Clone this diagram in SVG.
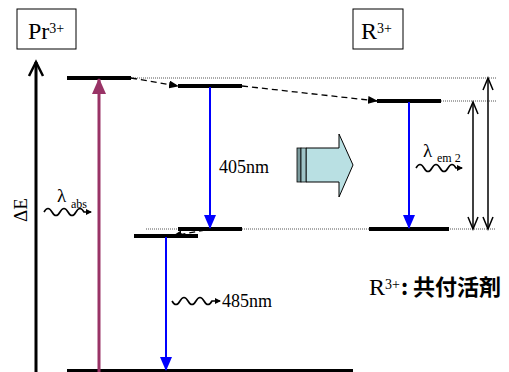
<svg xmlns="http://www.w3.org/2000/svg" width="509" height="372" viewBox="0 0 509 372">
<style>
text{font-family:"Liberation Serif","Times New Roman",serif;fill:#000}
.jp{font-family:"Noto Sans CJK JP","Noto Sans CJK SC",sans-serif;font-weight:bold}
.lvl{stroke:#000;stroke-width:4}
.dot{stroke:#555;stroke-width:1;stroke-dasharray:1 1;fill:none}
.dash{stroke:#000;stroke-width:1.3;stroke-dasharray:6 4;fill:none}
.blue{stroke:#0000ff;stroke-width:2;fill:none}
.wave{stroke:#000;stroke-width:1.6;fill:none}
.open{stroke:#000;stroke-width:1.5;fill:none}
</style>
<defs>
<marker id="ah" markerWidth="10" markerHeight="8" refX="9" refY="4" orient="auto" markerUnits="userSpaceOnUse"><path d="M0,0 L10,4 L0,8 Z" fill="#000"/></marker>
<marker id="ab" markerWidth="14" markerHeight="12" refX="13" refY="6" orient="auto" markerUnits="userSpaceOnUse"><path d="M0,0 L14,6 L0,12 Z" fill="#0000ff"/></marker>
<marker id="ap" markerWidth="16" markerHeight="14" refX="15" refY="7" orient="auto" markerUnits="userSpaceOnUse"><path d="M0,0 L16,7 L0,14 Z" fill="#993366"/></marker>
<marker id="aw" markerWidth="6" markerHeight="6" refX="5" refY="3" orient="auto" markerUnits="userSpaceOnUse"><path d="M0,0 L6,3 L0,6 Z" fill="#000"/></marker>
</defs>
<rect width="509" height="372" fill="#fff"/>

<g id="pr-label">
<rect x="17" y="9" width="59" height="40" fill="#fff" stroke="#000" stroke-width="1"/>
<text x="28" y="39" font-size="24">Pr<tspan font-size="14" dy="-6">3+</tspan></text>
</g>
<g id="r-label">
<rect x="353" y="9" width="50" height="40" fill="#fff" stroke="#000" stroke-width="1"/>
<text x="361" y="39" font-size="24">R<tspan font-size="14" dy="-6">3+</tspan></text>
</g>

<g id="axis">
<line x1="36" y1="62" x2="36" y2="372" stroke="#000" stroke-width="3"/>
<path d="M29,76 L36,62 L43,76" stroke="#000" stroke-width="2.5" fill="none"/>
<text font-size="19" transform="translate(27,210) rotate(-90)" text-anchor="middle">ΔE</text>
</g>

<g id="guides">
<line class="dot" x1="131" y1="78" x2="496" y2="78"/>
<line class="dot" x1="441" y1="101" x2="496" y2="101"/>
<line class="dot" x1="146" y1="229" x2="496" y2="229"/>
</g>

<g id="levels">
<line class="lvl" x1="67" y1="78" x2="131" y2="78" stroke-width="3"/>
<line class="lvl" x1="178" y1="86" x2="242" y2="86"/>
<line class="lvl" x1="377" y1="101" x2="441" y2="101"/>
<line class="lvl" x1="178" y1="229" x2="242" y2="229"/>
<line class="lvl" x1="369" y1="229" x2="449" y2="229" stroke-width="3"/>
<line class="lvl" x1="134" y1="236" x2="198" y2="236" stroke-width="3"/>
<line class="lvl" x1="67" y1="371" x2="353" y2="371" stroke-width="3"/>
</g>

<g id="connectors">
<line class="dash" x1="131" y1="78" x2="178" y2="86" marker-end="url(#ah)"/>
<line class="dash" x1="242" y1="86" x2="377" y2="101" marker-end="url(#ah)"/>
<line class="dash" x1="205" y1="230" x2="173" y2="236" marker-end="url(#ah)"/>
<line x1="99" y1="372" x2="99" y2="79" stroke="#993366" stroke-width="3" marker-end="url(#ap)"/>
<line class="blue" x1="210" y1="87" x2="210" y2="228" marker-end="url(#ab)"/>
<line class="blue" x1="166" y1="237" x2="166" y2="370" marker-end="url(#ab)"/>
<line class="blue" x1="409" y1="102" x2="409" y2="228" marker-end="url(#ab)"/>
<line class="open" x1="473" y1="103" x2="473" y2="228"/>
<path class="open" d="M468,114 L473,102 L478,114 M468,217 L473,229 L478,217"/>
<line class="open" x1="488" y1="79" x2="488" y2="228"/>
<path class="open" d="M483,90 L488,78 L493,90 M483,217 L488,229 L493,217"/>
</g>

<g id="transfer-arrow">
<path d="M306,148 L339,148 L339,134 L353,165 L339,197 L339,182 L306,182 Z" fill="#b9e0e3" stroke="#000" stroke-width="1"/>
<rect x="297" y="148" width="4" height="34" fill="#7a9a9c" stroke="#000" stroke-width="0.8"/>
<rect x="301" y="148" width="5" height="34" fill="#9fc4c7" stroke="#000" stroke-width="0.8"/>
</g>

<g id="labels">
<text x="219" y="173" font-size="18">405nm</text>
<path class="wave" d="M44,212 q4,-7 8,0 t8,0 t8,0 t8,0 t8,0 L91,212" marker-end="url(#aw)"/>
<text x="57" y="202" font-size="19">λ</text>
<text x="71" y="208" font-size="12">abs</text>
<path class="wave" d="M416,168 q4,-7 8,0 t8,0 t8,0 t8,0 t8,0 L462,168" marker-end="url(#aw)"/>
<text x="423" y="157" font-size="19">λ</text>
<text x="437" y="162" font-size="12">em 2</text>
<path class="wave" d="M172,301 q4,7 8,0 t8,0 t8,0 t8,0 t8,0 L220,301" marker-end="url(#aw)"/>
<text x="222" y="307" font-size="18">485nm</text>
<text x="369" y="295" font-size="24">R<tspan font-size="14" dy="-6">3+</tspan></text>
<text class="jp" x="401" y="295" font-size="22">:</text>
<text class="jp" x="413" y="295" font-size="22">共付活剤</text>
</g>
</svg>
